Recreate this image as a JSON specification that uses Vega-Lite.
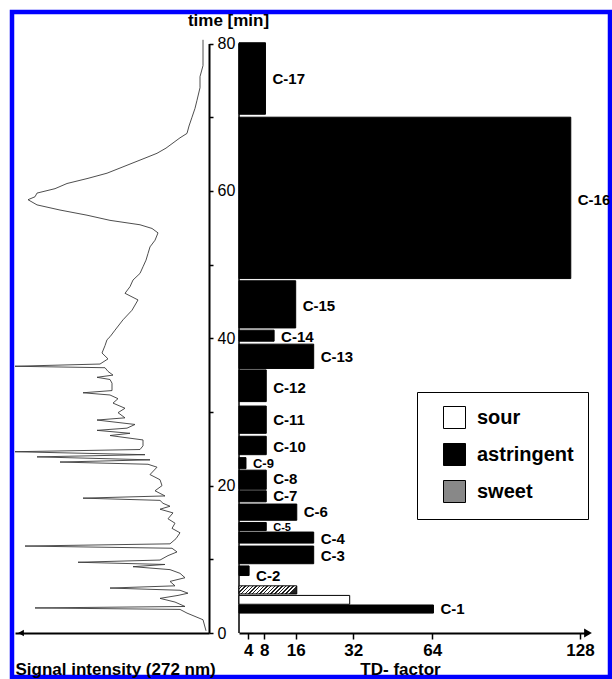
{
  "$schema": "https://vega.github.io/schema/vega-lite/v6.json",
  "width": 598,
  "height": 665,
  "autosize": {"type": "none"},
  "padding": {"left": 12, "top": 12, "right": 2, "bottom": 2},
  "background": "white",
  "config": {
    "view": {"stroke": "#0000ff", "strokeWidth": 4.5},
    "font": "Liberation Sans",
    "axis": {"domainColor": "black", "tickColor": "black", "labelColor": "black", "titleColor": "black", "grid": false, "labelFont": "Liberation Sans", "titleFont": "Liberation Sans"},
    "axisRight": {"labelFontSize": 16}
  },
  "datasets": {
    "chrom": [
      {"t":0.3,"I":3},{"t":1.8,"I":6},{"t":2.7,"I":22},{"t":3.2,"I":29},{"t":3.4,"I":174},{"t":3.6,"I":24},{"t":4.2,"I":34},{"t":4.7,"I":49},{"t":5.1,"I":31},{"t":5.4,"I":21},{"t":5.8,"I":29},{"t":6.1,"I":99},{"t":6.4,"I":34},{"t":7.0,"I":39},{"t":7.5,"I":24},{"t":8.1,"I":29},{"t":8.6,"I":39},{"t":9.0,"I":76},{"t":9.3,"I":44},{"t":9.6,"I":131},{"t":9.9,"I":49},{"t":10.5,"I":41},{"t":11.0,"I":32},{"t":11.5,"I":37},{"t":11.8,"I":184},{"t":12.1,"I":39},{"t":12.8,"I":33},{"t":13.6,"I":29},{"t":14.2,"I":37},{"t":14.9,"I":34},{"t":15.5,"I":41},{"t":16.3,"I":36},{"t":16.8,"I":49},{"t":17.2,"I":39},{"t":17.6,"I":46},{"t":18.0,"I":49},{"t":18.3,"I":126},{"t":18.6,"I":44},{"t":19.3,"I":54},{"t":20.0,"I":47},{"t":20.8,"I":49},{"t":21.5,"I":59},{"t":22.5,"I":52},{"t":22.9,"I":61},{"t":23.2,"I":149},{"t":23.5,"I":59},{"t":23.9,"I":172},{"t":24.2,"I":64},{"t":24.6,"I":194},{"t":24.9,"I":69},{"t":25.4,"I":66},{"t":26.2,"I":66},{"t":26.8,"I":99},{"t":27.1,"I":79},{"t":27.5,"I":112},{"t":27.8,"I":82},{"t":28.3,"I":74},{"t":28.9,"I":112},{"t":29.2,"I":84},{"t":29.9,"I":91},{"t":30.5,"I":84},{"t":31.2,"I":96},{"t":31.8,"I":91},{"t":32.3,"I":99},{"t":32.6,"I":126},{"t":32.9,"I":97},{"t":33.9,"I":97},{"t":34.4,"I":99},{"t":34.7,"I":112},{"t":35.0,"I":96},{"t":35.5,"I":101},{"t":36.0,"I":104},{"t":36.2,"I":194},{"t":36.5,"I":109},{"t":37.2,"I":101},{"t":38.0,"I":107},{"t":39.0,"I":104},{"t":39.8,"I":102},{"t":40.2,"I":99},{"t":41.1,"I":94},{"t":42.5,"I":86},{"t":43.8,"I":77},{"t":45.2,"I":71},{"t":46.1,"I":84},{"t":47.0,"I":79},{"t":47.9,"I":76},{"t":48.8,"I":69},{"t":49.7,"I":66},{"t":50.6,"I":63},{"t":51.5,"I":61},{"t":52.4,"I":59},{"t":53.3,"I":54},{"t":54.3,"I":51},{"t":54.9,"I":57},{"t":55.4,"I":69},{"t":56.0,"I":99},{"t":56.7,"I":122},{"t":57.4,"I":149},{"t":58.1,"I":172},{"t":58.8,"I":181},{"t":59.2,"I":174},{"t":59.7,"I":172},{"t":60.3,"I":154},{"t":61.0,"I":142},{"t":61.7,"I":121},{"t":62.4,"I":102},{"t":63.1,"I":89},{"t":63.8,"I":76},{"t":64.5,"I":63},{"t":65.1,"I":52},{"t":65.8,"I":43},{"t":66.5,"I":36},{"t":67.2,"I":29},{"t":67.8,"I":22},{"t":68.8,"I":20},{"t":70.0,"I":17},{"t":71.2,"I":14},{"t":72.3,"I":12},{"t":74.0,"I":9},{"t":75.5,"I":9},{"t":77.0,"I":6},{"t":80.5,"I":6}
    ],
    "bars": [
      {"label":"C-1","taste":"astringent","t0":2.7,"t1":3.8,"td":64.5,"tm":3.3},
      {"label":"","taste":"sour","t0":3.9,"t1":5.1,"td":31,"tm":4.5},
      {"label":"","taste":"sweet","t0":5.3,"t1":6.4,"td":16.3,"tm":5.8},
      {"label":"C-2","taste":"astringent","t0":7.8,"t1":9.1,"td":4.2,"tm":7.8},
      {"label":"C-3","taste":"astringent","t0":9.4,"t1":11.8,"td":21,"tm":10.4},
      {"label":"C-4","taste":"astringent","t0":12.2,"t1":13.7,"td":21,"tm":12.8},
      {"label":"C-5","taste":"astringent","t0":13.9,"t1":15.0,"td":8.5,"tm":14.3},
      {"label":"C-6","taste":"astringent","t0":15.3,"t1":17.5,"td":16.3,"tm":16.4},
      {"label":"C-7","taste":"astringent","t0":17.8,"t1":19.3,"td":8.5,"tm":18.6},
      {"label":"C-8","taste":"astringent","t0":19.5,"t1":22.1,"td":8.5,"tm":20.9},
      {"label":"C-9","taste":"astringent","t0":22.3,"t1":23.8,"td":3,"tm":23.0},
      {"label":"C-10","taste":"astringent","t0":24.2,"t1":26.7,"td":8.5,"tm":25.3},
      {"label":"C-11","taste":"astringent","t0":27.1,"t1":30.8,"td":8.5,"tm":28.9},
      {"label":"C-12","taste":"astringent","t0":31.4,"t1":35.7,"td":8.5,"tm":33.2},
      {"label":"C-13","taste":"astringent","t0":35.9,"t1":39.2,"td":21,"tm":37.5},
      {"label":"C-14","taste":"astringent","t0":39.6,"t1":41.1,"td":10.5,"tm":40.2},
      {"label":"C-15","taste":"astringent","t0":41.4,"t1":47.8,"td":16,"tm":44.4},
      {"label":"C-16","taste":"astringent","t0":48.1,"t1":70.0,"td":124,"tm":58.8},
      {"label":"C-17","taste":"astringent","t0":70.4,"t1":80.1,"td":8.3,"tm":75.2}
    ]
  },
  "layer": [
    {
      "layer": [
        {
          "data": {"name": "chrom"},
          "mark": {"type": "line", "stroke": "#3a3a3a", "strokeWidth": 0.9},
          "encoding": {
            "x": {
              "field": "I", "type": "quantitative",
              "scale": {"domain": [0, 194], "range": [197, 3], "nice": false, "zero": false},
              "axis": {"orient": "bottom", "offset": -44, "domainWidth": 2, "ticks": false, "labels": false,
                "title": "Signal intensity (272 nm)", "titleFontSize": 17, "titleFontWeight": "bold",
                "titleX": 3, "titleY": 41, "titleAlign": "left", "titleBaseline": "alphabetic"}
            },
            "y": {
              "field": "t", "type": "quantitative",
              "scale": {"domain": [0, 80], "range": [621, 31.5], "nice": false, "zero": false},
              "axis": {"orient": "right", "offset": -401, "values": [0,10,20,30,40,50,60,70,80],
                "labelExpr": "datum.value % 20 === 0 ? datum.label : ''",
                "tickSize": 4, "tickWidth": 1.5, "domainWidth": 2, "labelFontSize": 16, "labelPadding": 4,
                "labelOverlap": false, "labelBound": false, "labelFlush": false,
                "title": "time [min]", "titleAngle": 0, "titleX": 19, "titleY": 13, "titleAlign": "center",
                "titleBaseline": "alphabetic", "titleFontSize": 17, "titleFontWeight": "bold"}
            },
            "order": {"field": "t", "type": "quantitative"}
          }
        },
        {
          "data": {"values": [{}]},
          "mark": {"type": "point", "shape": "triangle-left", "filled": true, "color": "black", "size": 45, "opacity": 1},
          "encoding": {
            "x": {"datum": 188, "type": "quantitative"},
            "y": {"datum": 0, "type": "quantitative"}
          }
        }
      ]
    },
    {
      "layer": [
        {
          "data": {"values": [{}]},
          "mark": {"type": "rule", "color": "black", "strokeWidth": 1.5},
          "encoding": {
            "x": {"datum": 0, "type": "quantitative"},
            "y": {"datum": 0, "type": "quantitative"},
            "y2": {"datum": 80}
          }
        },
        {
          "data": {"name": "bars"},
          "mark": {"type": "rect", "stroke": "black", "strokeWidth": 1},
          "encoding": {
            "x": {
              "field": "td", "type": "quantitative",
              "scale": {"domain": [0, 4, 8, 16, 32, 64, 128, 134], "range": [227, 236.3, 252.3, 283.7, 341.3, 420.3, 568, 576], "nice": false, "zero": false},
              "axis": {"orient": "bottom", "offset": -44, "values": [4, 8, 16, 32, 64, 128], "domainWidth": 2,
                "tickSize": 6, "tickWidth": 1.5, "labelFontSize": 17, "labelFontWeight": "bold", "labelPadding": 3,
                "labelOverlap": false, "labelFlush": false, "labelBound": false,
                "title": "TD- factor", "titleFontSize": 17, "titleFontWeight": "bold",
                "titleX": 388, "titleY": 41, "titleAlign": "center", "titleBaseline": "alphabetic"}
            },
            "x2": {"datum": 0},
            "y": {"field": "t0", "type": "quantitative"},
            "y2": {"field": "t1"},
            "fill": {
              "condition": {"test": "datum.taste === 'sweet'", "value": {"gradient": "linear", "x1": 0, "y1": 0, "x2": 1, "y2": 0.14, "stops": [
                {"offset":0,"color":"white"},{"offset":0.0375,"color":"white"},{"offset":0.0375,"color":"#222"},{"offset":0.0625,"color":"#222"},
                {"offset":0.0625,"color":"white"},{"offset":0.1,"color":"white"},{"offset":0.1,"color":"#222"},{"offset":0.125,"color":"#222"},
                {"offset":0.125,"color":"white"},{"offset":0.1625,"color":"white"},{"offset":0.1625,"color":"#222"},{"offset":0.1875,"color":"#222"},
                {"offset":0.1875,"color":"white"},{"offset":0.225,"color":"white"},{"offset":0.225,"color":"#222"},{"offset":0.25,"color":"#222"},
                {"offset":0.25,"color":"white"},{"offset":0.2875,"color":"white"},{"offset":0.2875,"color":"#222"},{"offset":0.3125,"color":"#222"},
                {"offset":0.3125,"color":"white"},{"offset":0.35,"color":"white"},{"offset":0.35,"color":"#222"},{"offset":0.375,"color":"#222"},
                {"offset":0.375,"color":"white"},{"offset":0.4125,"color":"white"},{"offset":0.4125,"color":"#222"},{"offset":0.4375,"color":"#222"},
                {"offset":0.4375,"color":"white"},{"offset":0.475,"color":"white"},{"offset":0.475,"color":"#222"},{"offset":0.5,"color":"#222"},
                {"offset":0.5,"color":"white"},{"offset":0.5375,"color":"white"},{"offset":0.5375,"color":"#222"},{"offset":0.5625,"color":"#222"},
                {"offset":0.5625,"color":"white"},{"offset":0.6,"color":"white"},{"offset":0.6,"color":"#222"},{"offset":0.625,"color":"#222"},
                {"offset":0.625,"color":"white"},{"offset":0.6625,"color":"white"},{"offset":0.6625,"color":"#222"},{"offset":0.6875,"color":"#222"},
                {"offset":0.6875,"color":"white"},{"offset":0.725,"color":"white"},{"offset":0.725,"color":"#222"},{"offset":0.75,"color":"#222"},
                {"offset":0.75,"color":"white"},{"offset":0.7875,"color":"white"},{"offset":0.7875,"color":"#222"},{"offset":0.8125,"color":"#222"},
                {"offset":0.8125,"color":"white"},{"offset":0.85,"color":"white"},{"offset":0.85,"color":"#222"},{"offset":0.875,"color":"#222"},
                {"offset":0.875,"color":"white"},{"offset":0.9125,"color":"white"},{"offset":0.9125,"color":"#222"},{"offset":0.9375,"color":"#222"},
                {"offset":0.9375,"color":"white"},{"offset":0.975,"color":"white"},{"offset":0.975,"color":"#222"},{"offset":1,"color":"#222"}
              ]}},
              "field": "taste", "type": "nominal",
              "scale": {"domain": ["sour", "astringent", "sweet"], "range": ["white", "black", "#888888"]},
              "legend": {
                "orient": "none", "legendX": 405, "legendY": 380, "direction": "vertical", "title": null,
                "symbolType": "square", "symbolSize": 484, "symbolStrokeColor": "black", "symbolStrokeWidth": 1,
                "labelFontSize": 20, "labelFontWeight": "bold", "labelFont": "Liberation Sans", "labelColor": "black",
                "labelOffset": 11, "rowPadding": 10, "padding": 14, "symbolOffset": 12, "strokeColor": "black",
                "encode": {"symbols": {"update": {
                  "fill": {"signal": "datum.value === 'sweet' ? {gradient: 'linear', x1: 0, y1: 0, x2: 1, y2: 1, stops: [{offset: 0, color: 'white'}, {offset: 0.09, color: 'white'}, {offset: 0.09, color: 'black'}, {offset: 0.1667, color: 'black'}, {offset: 0.1667, color: 'white'}, {offset: 0.2567, color: 'white'}, {offset: 0.2567, color: 'black'}, {offset: 0.3333, color: 'black'}, {offset: 0.3333, color: 'white'}, {offset: 0.4233, color: 'white'}, {offset: 0.4233, color: 'black'}, {offset: 0.5, color: 'black'}, {offset: 0.5, color: 'white'}, {offset: 0.59, color: 'white'}, {offset: 0.59, color: 'black'}, {offset: 0.6667, color: 'black'}, {offset: 0.6667, color: 'white'}, {offset: 0.7567, color: 'white'}, {offset: 0.7567, color: 'black'}, {offset: 0.8333, color: 'black'}, {offset: 0.8333, color: 'white'}, {offset: 0.9233, color: 'white'}, {offset: 0.9233, color: 'black'}, {offset: 1, color: 'black'}]} : (datum.value === 'sour' ? 'white' : 'black')"},
                  "stroke": {"value": "black"},
                  "strokeWidth": {"value": 1}
                }}}
              }
            }
          }
        },
        {
          "data": {"name": "bars"},
          "transform": [{"filter": "datum.label !== ''"}],
          "mark": {"type": "text", "align": "left", "baseline": "middle", "dx": 7, "fontWeight": "bold", "font": "Liberation Sans", "color": "black"},
          "encoding": {
            "x": {"field": "td", "type": "quantitative"},
            "y": {"field": "tm", "type": "quantitative"},
            "text": {"field": "label"},
            "size": {"condition": [{"test": "datum.label === 'C-5'", "value": 11}, {"test": "datum.label === 'C-9'", "value": 13}], "value": 15}
          }
        },
        {
          "data": {"values": [{}]},
          "mark": {"type": "point", "shape": "triangle-right", "filled": true, "color": "black", "size": 80, "opacity": 1},
          "encoding": {
            "x": {"datum": 134, "type": "quantitative"},
            "y": {"datum": 0, "type": "quantitative"}
          }
        }
      ]
    }
  ],
  "resolve": {"scale": {"x": "independent"}, "axis": {"x": "independent"}}
}
